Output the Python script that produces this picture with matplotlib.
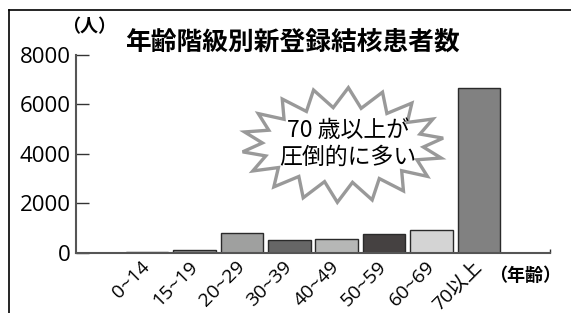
import numpy as np
import matplotlib
matplotlib.use('Agg')
import matplotlib.pyplot as plt
from matplotlib.lines import Line2D
from matplotlib.patches import Polygon

plt.rcParams['font.family'] = ['Open Sans', 'Noto Sans CJK JP', 'DejaVu Sans']
cjk = ['Noto Sans CJK JP', 'DejaVu Sans']

# data
age_groups = ['0~14', '15~19', '20~29', '30~39', '40~49', '50~59', '60~69', '70以上']
patients = [40, 90, 780, 510, 540, 740, 920, 6660]
bar_colors = ['#555555', '#8a8a8a', '#9fa09f', '#666666', '#b6b7b6', '#454141', '#d4d4d4', '#818181']
y_ticks = [0, 2000, 4000, 6000, 8000]

fig = plt.figure(figsize=(5.71, 3.13), dpi=100)
ax = fig.add_axes([76 / 571, 1 - 252.7 / 313, 474 / 571, 198 / 313])

x = np.arange(len(age_groups))
ax.bar(x, patients, width=0.9, color=bar_colors, edgecolor='#2a2a2a', linewidth=1)

ax.set_xlim(-1.5, 8.5)
ax.set_ylim(0, 8000)
ax.set_yticks(y_ticks)
ax.set_xticks(x)
ax.set_xticklabels(age_groups, rotation=45, ha='right', va='center', rotation_mode='anchor')

for s in ['top', 'right']:
    ax.spines[s].set_visible(False)
ax.spines['left'].set_color('#555555')
ax.spines['left'].set_linewidth(1.5)
ax.spines['bottom'].set_color('#555555')
ax.spines['bottom'].set_linewidth(1.5)

ax.tick_params(axis='y', direction='in', length=9, width=1, color='#333333',
               labelsize=16, pad=4)
ax.tick_params(axis='x', length=0, labelsize=14, pad=8)
ax.set_xticks([8.5], minor=True)
ax.tick_params(axis='x', which='minor', direction='in', length=3, width=1, color='#333333')

# units
fig.text(89 / 571, 1 - 27 / 313, '（人）', ha='center', va='center', fontsize=13,
         family=cjk, fontweight='bold')
fig.text(525 / 571, 1 - 275 / 313, '（年齢）', ha='center', va='center',
         fontsize=13, fontweight='bold', family=cjk)

# title
fig.text(292 / 571, 1 - 42 / 313, '年齢階級別新登録結核患者数', ha='center', va='center',
         fontsize=18.5, fontweight='bold', family=cjk)

# starburst callout
n_spikes = 18
ang = np.linspace(0, 2 * np.pi, 2 * n_spikes, endpoint=False) + 0.12
rx = np.where(np.arange(2 * n_spikes) % 2 == 0, 0.213, 0.170)
ry = np.where(np.arange(2 * n_spikes) % 2 == 0, 0.29, 0.19)
cx, cy = 0.563, 0.544
pts = np.column_stack([cx + rx * np.cos(ang), cy + ry * np.sin(ang)])
star = Polygon(pts, closed=True, transform=ax.transAxes, facecolor='white',
               edgecolor='#999999', linewidth=2.4, clip_on=False, zorder=3)
ax.add_patch(star)
ax.text(0.574, 0.55, '70 歳以上が\n圧倒的に多い', transform=ax.transAxes, ha='center',
        va='center', fontsize=16.5, linespacing=1.2, zorder=4, family=cjk)

# frame
fig.add_artist(Line2D([8.5 / 571, 8.5 / 571], [0, 1 - 10 / 313], color='black', linewidth=1.2))
fig.add_artist(Line2D([8.5 / 571, 1], [1 - 10 / 313, 1 - 10 / 313], color='black', linewidth=1.2))

fig.savefig('out.png', dpi=100)
